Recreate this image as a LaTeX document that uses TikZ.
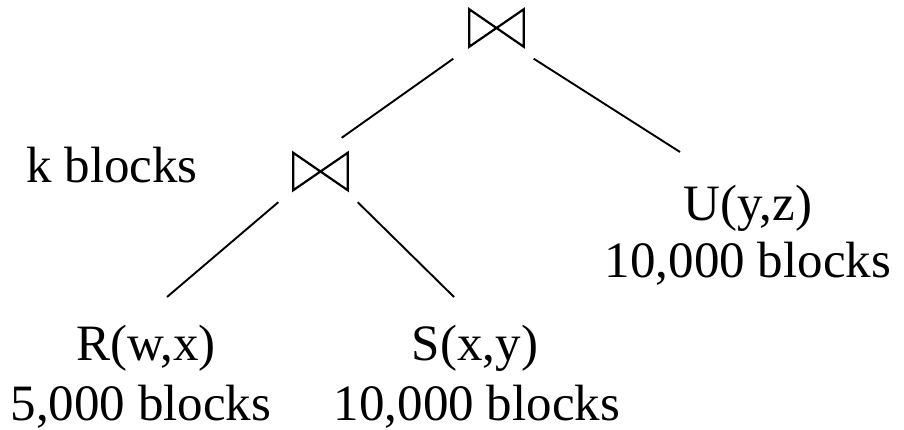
\documentclass[tikz,border=0pt]{standalone}
\usepackage{fontspec}
\setmainfont{Liberation Serif}
\begin{document}
\begin{tikzpicture}[x=1pt,y=1pt,
  lbl/.style={anchor=base,inner sep=0pt,font=\fontsize{51}{52}\selectfont},
  joinbox/.style={minimum width=54pt,minimum height=37pt,inner sep=0pt},
  bowtie/.style={line width=2.2pt,line join=miter},
  conn/.style={line width=1.9pt}]
\useasboundingbox (0,0) rectangle (904,-430);
% join symbols
\node[joinbox] (j1) at (496.5,-28) {};
\node[joinbox] (j2) at (320.5,-171.5) {};
\foreach \j in {j1,j2}{
  \draw[bowtie] (\j.north west) -- (\j.south east) -- (\j.north east) -- (\j.south west) -- cycle;
}
% labels
\node[lbl] (k)  at (112,-183) {k blocks};
\node[lbl] (r)  at (146,-360) {R(w,x)};
\node[lbl] (rc) at (141,-420) {5,000 blocks};
\node[lbl] (s)  at (475,-360) {S(x,y)};
\node[lbl] (sc) at (477,-420) {10,000 blocks};
\node[lbl] (u)  at (748,-221) {U(y,z)};
\node[lbl] (uc) at (748,-277) {10,000 blocks};
% connectors
\draw[conn] ([shift={(-16,-12)}]j1.south west) -- ([shift={(-6,15)}]j2.north east);
\draw[conn] ([shift={(10,-12)}]j1.south east) -- ([shift={(-68,69)}]u.base);
\draw[conn] ([shift={(-15,-12)}]j2.south west) -- ([shift={(21,63)}]r.base);
\draw[conn] ([shift={(10,-12)}]j2.south east) -- ([shift={(-21,63)}]s.base);
\end{tikzpicture}
\end{document}
